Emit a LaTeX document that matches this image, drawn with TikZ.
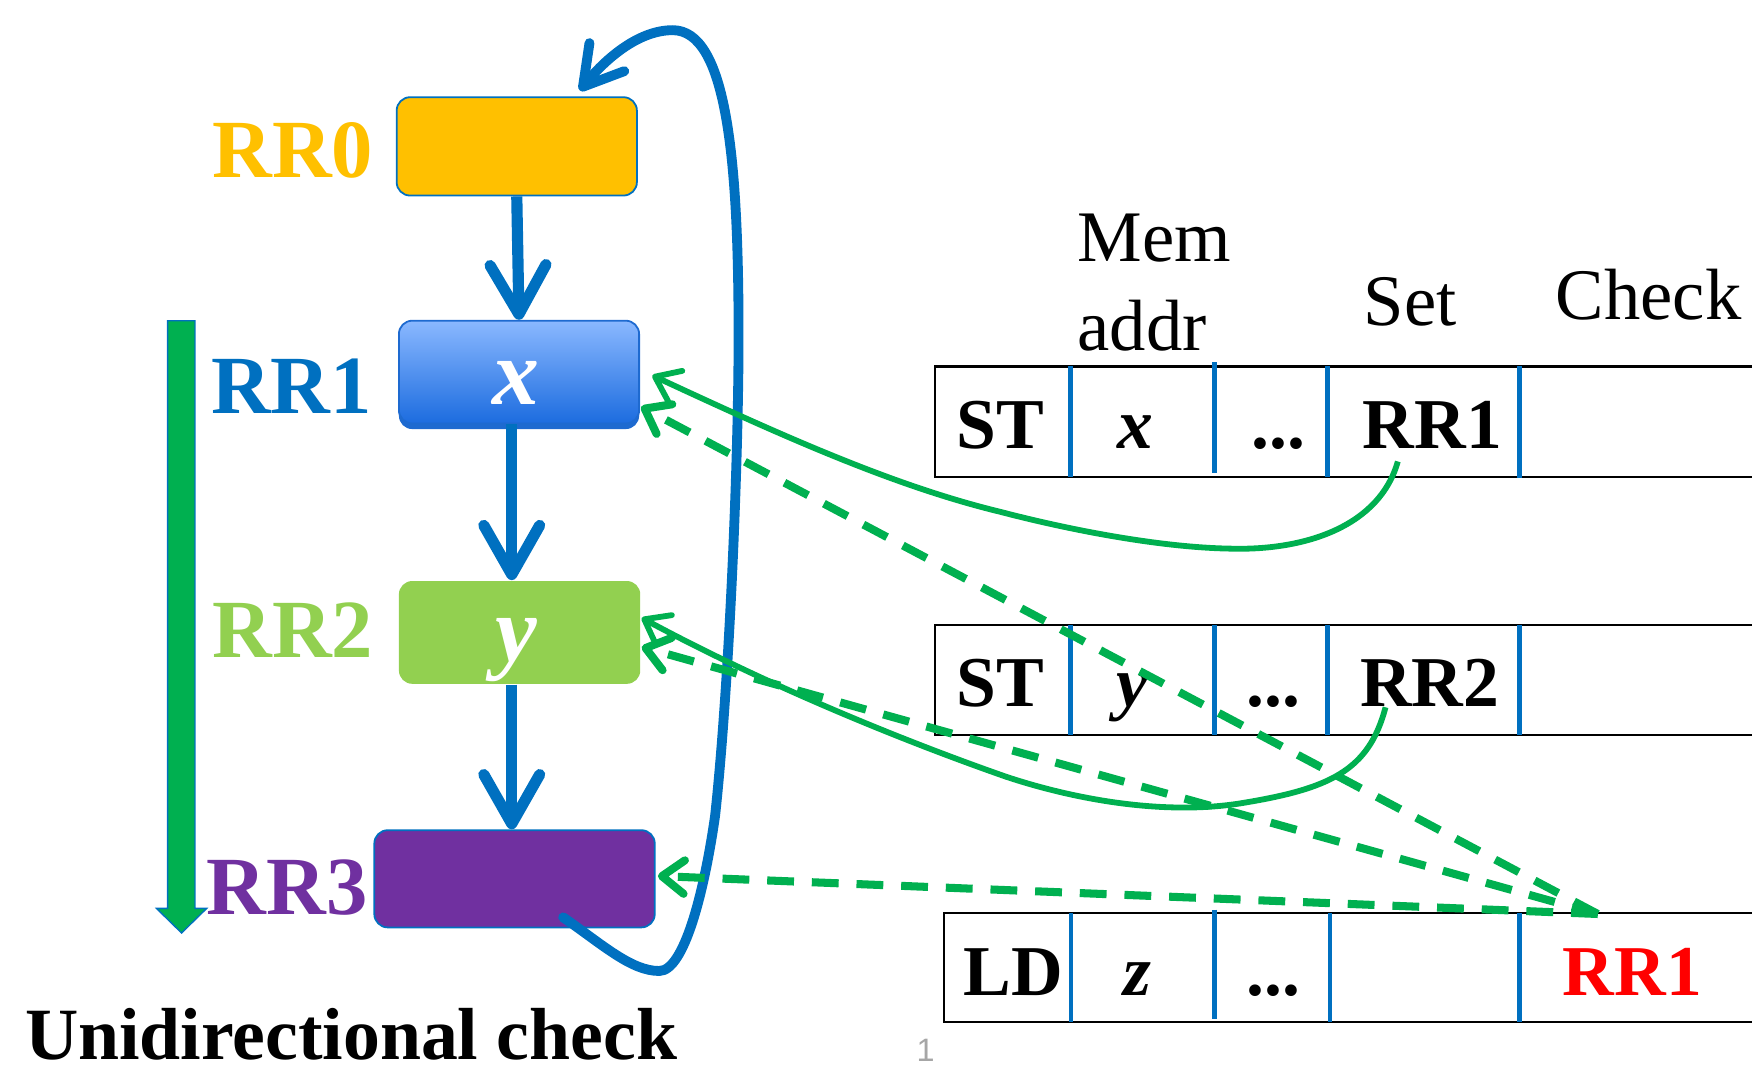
\documentclass[tikz,border=0pt]{standalone}
\usepackage{fontspec}
\setmainfont{Liberation Serif}
\newfontfamily\pgnumfont{Liberation Sans}
\usetikzlibrary{arrows.meta,calc}
\definecolor{cblue}{HTML}{0070C0}
\definecolor{cgreen}{HTML}{00B050}
\definecolor{cyel}{HTML}{FFC000}
\definecolor{clime}{HTML}{92D050}
\definecolor{cpurp}{HTML}{7030A0}
\definecolor{cred}{HTML}{FF0000}
\definecolor{cgtop}{HTML}{8AB8FF}
\definecolor{cgbot}{HTML}{1C6CDF}
\definecolor{cgedge}{HTML}{1E6AD0}
\begin{document}
\begin{tikzpicture}[x=0.5pt,y=-0.5pt,
  rrlabel/.style={font=\fontsize{37}{37}\selectfont\bfseries, anchor=base, inner sep=0pt},
  rrbox/.style={rounded corners=6pt, inner sep=0pt, draw=cblue, line width=0.8pt},
  boxtext/.style={font=\fontsize{42}{42}\selectfont\bfseries\itshape, text=white, anchor=base, inner sep=0pt},
  cell/.style={font=\fontsize{32}{32}\selectfont\bfseries, anchor=base, inner sep=0pt},
  celli/.style={font=\fontsize{32}{32}\selectfont\bfseries\itshape, anchor=base, inner sep=0pt},
  hdr/.style={font=\fontsize{32.5}{32.5}\selectfont, inner sep=0pt},
  flow/.style={cblue, line width=5pt, -{Straight Barb[length=22pt,width=25pt,round]}},
  loopline/.style={cblue, line width=4.4pt, line cap=round, -{Straight Barb[length=17pt,width=20pt,round]}},
  setline/.style={cgreen, line width=2.6pt, -{Straight Barb[length=10pt,width=15pt,round]}},
  chkline/.style={cgreen, line width=3.6pt, dash pattern=on 12pt off 8pt, -{Straight Barb[length=10pt,width=15pt,round]}},
  divider/.style={cblue, line width=1.9pt},
  rowline/.style={black, line width=0.9pt},
]
\useasboundingbox (0,0) rectangle (1568,959);

% ---- left column boxes ----
\node[rrbox, fill=cyel, minimum width=107.5pt, minimum height=44pt] (RR0) at (462.5,131) {};
\fill[cgedge, rounded corners=6pt] (357,292) rectangle (572,384);
\node[rrbox, draw=cgedge, top color=cgtop, bottom color=cgbot, minimum width=107.5pt, minimum height=46pt] (RR1) at (464.5,333) {};
\node[rrbox, draw=none, fill=clime, minimum width=108pt, minimum height=46pt] (RR2) at (465,566) {};
\node[rrbox, fill=cpurp, minimum width=125.5pt, minimum height=43.5pt] (RR3) at (460.5,786.5) {};

\node[boxtext] (xin) at (462,362) {x};
\node[boxtext] (yin) at (462,592) {y};

% ---- left labels ----
\node[rrlabel, text=cyel] (L0) at (262,159) {RR0};
\node[rrlabel, text=cblue] (L1) at (261,370) {RR1};
\node[rrlabel, text=clime] (L2) at (262,588) {RR2};
\node[rrlabel, text=cpurp] (L3) at (257,818) {RR3};

% ---- green block arrow ----
\filldraw[fill=cgreen, draw=cblue, line width=0.6pt]
  (150,287) -- (174.5,287) -- (174.5,813) -- (185,813) -- (162.5,835) -- (140,813) -- (150,813) -- cycle;

% ---- flow arrows ----
\draw[flow] (RR0.south) -- (RR1.north);
\draw[flow] ($(RR1.south)+(-6.5,0)$) -- ($(RR2.north)+(-7,0)$);
\draw[flow] ($(RR2.south)+(-7,0)$) -- ($(RR3.north)+(-2.5,0)$);

% ---- loop back ----
\coordinate (loopstart) at (504,821);
\coordinate (loopend) at (519,81);
\draw[loopline] (loopstart) .. controls (540,846) and (565,869) .. (590,869)
  .. controls (612,869) and (630,800) .. (640,730)
  .. controls (652,620) and (661,420) .. (661,300)
  .. controls (661,140) and (650,27) .. (602,27)
  .. controls (570,27) and (540,55) .. (loopend);

% ---- bottom caption ----
\node[font=\fontsize{33}{33}\selectfont\bfseries, anchor=base west, inner sep=0pt, text depth=0pt] (cap) at (22,948) {Unidirectional check};
\node[font=\pgnumfont\fontsize{14.5}{14.5}\selectfont, text=black!35, anchor=base, inner sep=0pt, text depth=0pt] (pg) at (828.5,950) {1};

% ---- headers ----
\node[hdr, anchor=base west] (mem) at (964,234) {Mem};
\node[hdr, anchor=base west] (addr) at (964,314) {addr};
\node[hdr, anchor=base] (set) at (1262,291) {Set};
\node[hdr, anchor=base west] (check) at (1392,286) {Check};

% ---- row 1 ----
\draw[rowline] (1568,328) -- (837,328) -- (837,427) -- (1568,427);
\draw[divider] (958,328) -- (958,427);
\draw[divider] (1087,324) -- (1087,423);
\draw[divider] (1188,328) -- (1188,427);
\draw[divider] (1360,328) -- (1360,428);
\node[cell] (r1op) at (895.5,401) {ST};
\node[celli] (r1addr) at (1016,401) {x};
\node[cell] (r1dots) at (1144,401) {...};
\node[cell] (r1set) at (1282,401) {RR1};

% ---- row 2 ----
\draw[rowline] (1568,559) -- (837,559) -- (837,658) -- (1568,658);
\draw[divider] (958,559) -- (958,658);
\draw[divider] (1087,559) -- (1087,658);
\draw[divider] (1188,559) -- (1188,658);
\draw[divider] (1360,559) -- (1360,658);
\node[cell] (r2op) at (895.5,632.5) {ST};
\node[celli] (r2addr) at (1013.5,632.5) {y};
\node[cell] (r2dots) at (1139.5,632.5) {...};
\node[cell] (r2set) at (1279.5,632.5) {RR2};

% ---- row 3 ----
\draw[rowline] (1568,817) -- (844.5,817) -- (844.5,915) -- (1568,915);
\draw[divider] (958.5,817) -- (958.5,915);
\draw[divider] (1087,814) -- (1087,912);
\draw[divider] (1190,817) -- (1190,915);
\draw[divider] (1360,817) -- (1360,915);
\node[cell] (r3op) at (907,890.5) {LD};
\node[celli] (r3addr) at (1017.5,890.5) {z};
\node[cell] (r3dots) at (1139.5,890.5) {...};
\node[cell, text=cred] (r3chk) at (1461,890.5) {RR1};

% ---- connector end points ----
\coordinate (c1set) at (1251,413);
\coordinate (c2set) at (1240,633);
\coordinate (chk) at (1430,818);

% ---- set (solid) connectors ----
\draw[setline] (c1set) .. controls (1235,470) and (1170,493) .. (1101,491)
  .. controls (1040,490) and (960,475) .. (895,458)
  .. controls (800,435) and (700,390) .. ($(RR1.east)+(11,3)$);
\draw[setline] (c2set) .. controls (1225,690) and (1190,706) .. (1110,719)
  .. controls (1040,730) and (960,715) .. (900,695)
  .. controls (800,660) and (680,610) .. ($(RR2.east)+(0.5,-13)$);

% ---- check (dashed) connectors ----
\draw[chkline] (chk) -- ($(RR1.east)+(1,31)$);
\draw[chkline] (chk) -- ($(RR2.east)+(0.5,13)$);
\draw[chkline] (chk) -- ($(RR3.east)+(2,-2.5)$);
\end{tikzpicture}
\end{document}
